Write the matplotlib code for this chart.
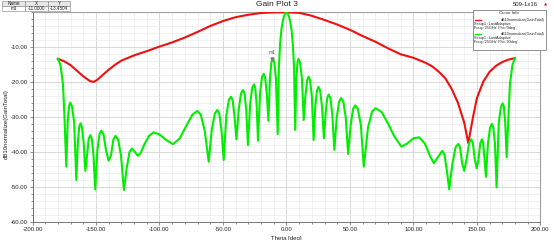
import matplotlib
matplotlib.use("Agg")
import matplotlib.pyplot as plt
from matplotlib.patches import Rectangle
from matplotlib.lines import Line2D
from matplotlib.ticker import MultipleLocator, FormatStrFormatter

plt.rcParams['font.family'] = ['Liberation Sans', 'DejaVu Sans']
plt.rcParams['axes.unicode_minus'] = False

# Phi = 0deg cut (red)
theta_phi0 = [-180, -175, -170, -165, -160, -155, -152, -149, -145, -140, -135, -130,
              -120, -110, -100, -90, -80, -70, -60, -50, -40, -30, -20, -10, 0,
              10, 20, 30, 40, 50, 60, 70, 80, 90, 100, 110, 115, 120, 125, 130, 135,
              140, 143.2, 145, 147, 150, 152.5, 155, 160, 165, 170, 175, 180]
gain_phi0 = [-13.3, -14.0, -15.1, -16.7, -18.3, -19.6, -19.9, -19.3, -18.0, -16.4, -15.0, -13.8,
             -12.3, -11.1, -9.8, -8.6, -7.2, -5.6, -3.9, -2.5, -1.4, -0.7, -0.2, -0.02, 0.0,
             -0.15, -1.0, -2.2, -3.5, -5.0, -6.8, -8.4, -10.3, -12.0, -13.0, -14.5, -15.5, -17.0, -18.8, -21.8, -25.8,
             -31.5, -37.4, -33.8, -29.8, -24.5, -22.2, -19.8, -17.0, -15.3, -14.2, -13.5, -13.1]

# Phi = 90deg cut (green)
theta_phi90 = [
    -180, -178, -176, -174.8, -173.4,
    -172.3, -171.2, -170.3, -168.9, -167.2, -165.5,
    -164.3, -163.2, -162.2, -161.1, -159.7, -158.4,
    -157.0, -155.7, -154.5, -153.3, -152.0, -150.6,
    -148.9, -147.2, -145.8, -144.1, -142.1, -140.1,
    -138.2, -136.3, -134.6, -132.6, -130.3, -128.0,
    -125.8, -123.6, -121.7, -119.5, -117.0,
    -115, -112, -108, -104.6, -100, -95, -89.4, -84, -79, -74, -70.2,
    -67.5, -64.4, -61.2,
    -58.8, -56.4, -54.4, -52.9, -51.2, -49.4,
    -47.4, -45.4, -43.7, -42.4, -40.9, -39.4,
    -37.6, -35.8, -34.2, -33.0, -31.7, -30.3,
    -28.6, -27.0, -25.5, -24.6, -23.5, -22.4,
    -20.8, -19.3, -17.9, -16.8, -15.5, -14.2,
    -13.0, -11.8, -10.8, -9.6, -8.3, -6.9,
    -6, -5, -4, -3, -2, -1, 0, 1, 2, 3, 4, 5, 6, 6.9,
    7.8, 8.7, 9.5, 10.7, 12.2, 13.6,
    14.9, 16.3, 17.4, 18.6, 20.0, 21.4,
    22.7, 24.1, 25.2, 26.5, 28.0, 29.5,
    30.8, 32.1, 33.2, 34.6, 36.1, 37.7,
    39.6, 41.5, 43.1, 44.8, 46.7, 48.6,
    50.6, 52.5, 54.2, 56.2, 58.6, 60.9,
    64.2, 67.4, 70.2, 75, 80, 85, 90.6, 95, 100, 104.5, 109, 113, 116.1, 119, 122.7,
    124.4, 126.3, 128.2,
    130.7, 133.2, 135.3, 136.7, 138.4, 140.0,
    141.9, 143.9, 145.5, 146.8, 148.3, 149.8,
    151.3, 152.7, 154.0, 154.9, 156.0, 157.1,
    158.7, 160.4, 161.8, 162.9, 164.2, 165.5,
    167.2, 168.9, 170.3, 171.2, 172.3, 173.4,
    174.8, 176, 178, 180]
gain_phi90 = [
    -13.3, -15.0, -20.5, -30.0, -44.1,
    -31.4, -26.8, -25.8, -26.8, -31.4, -47.9,
    -37.3, -32.7, -31.7, -32.7, -37.3, -45.3,
    -40.7, -36.1, -35.1, -36.1, -40.7, -50.6,
    -39.4, -34.8, -33.8, -34.8, -39.4, -42.4,
    -40.9, -36.3, -35.3, -36.3, -40.9, -50.8,
    -44.5, -39.9, -38.9, -39.8, -41.0,
    -40.3, -37.8, -35.2, -34.3, -34.9, -36.4, -37.7, -36.0, -32.5, -29.2, -28.2,
    -29.2, -33.8, -42.7,
    -33.5, -28.9, -27.9, -28.9, -33.5, -42.2,
    -29.7, -25.1, -24.1, -25.1, -29.7, -36.3,
    -27.8, -23.2, -22.2, -23.2, -27.8, -37.9,
    -26.2, -21.6, -20.6, -21.6, -26.2, -36.7,
    -23.2, -18.6, -17.6, -18.6, -23.2, -31.0,
    -18.8, -14.2, -13.2, -14.2, -18.8, -34.8,
    -16.0, -9.0, -5.0, -2.7, -1.2, -0.3, 0.0, -0.3, -1.2, -2.7, -5.0, -9.0, -16.0, -33.6,
    -18.9, -14.3, -13.3, -14.3, -18.9, -30.8,
    -24.0, -19.4, -18.4, -19.4, -24.0, -36.5,
    -26.9, -22.3, -21.3, -22.3, -26.9, -36.0,
    -29.1, -24.5, -23.5, -24.5, -29.1, -39.3,
    -30.1, -25.5, -24.5, -25.5, -30.1, -40.5,
    -32.2, -27.6, -26.6, -27.6, -32.2, -44.1,
    -33.0, -28.4, -27.4, -28.5, -31.8, -35.5, -38.4, -37.5, -36.0, -35.7, -37.5, -41.0, -43.1, -41.5, -39.6,
    -40.6, -45.2, -50.6,
    -43.2, -38.6, -37.6, -38.6, -43.2, -45.3,
    -41.9, -37.3, -36.3, -37.3, -41.9, -44.6,
    -41.9, -37.3, -36.3, -37.3, -41.9, -47.0,
    -37.5, -32.9, -31.9, -32.9, -37.5, -50.0,
    -31.6, -27.0, -26.0, -27.0, -31.6, -41.4,
    -30.0, -20.5, -15.0, -13.1]

marker_name = "m1"
marker_x = -11.0
marker_y = -13.4504

curve_labels = [["dB10normalize(GainTotal)", "Setup1 : LastAdaptive", "Freq='25GHz' Phi='0deg'"],
                ["dB10normalize(GainTotal)", "Setup1 : LastAdaptive", "Freq='25GHz' Phi='90deg'"]]
curve_colors = ["#f01010", "#00ee00"]

W, H = 554, 240


def fx(px):
    return px / W


def fy(py):
    return 1 - py / H


fig = plt.figure(figsize=(W / 100, H / 100), dpi=100)
ax = fig.add_axes([fx(32.5), fy(222.3), (540.4 - 32.5) / W, (222.3 - 12.3) / H])

ax.plot(theta_phi0, gain_phi0, color=curve_colors[0], lw=1.5, zorder=3)
ax.plot(theta_phi90, gain_phi90, color=curve_colors[1], lw=1.5, zorder=4)

# marker
ax.plot([marker_x], [marker_y], marker="v", ms=2.2, color="#808080", zorder=5)
ax.annotate(marker_name, (marker_x, marker_y), xytext=(0, 3.5), textcoords="offset points",
            ha="center", va="bottom", fontsize=3.6, color="#555555", zorder=5)

ax.set_xlim(-200, 200)
ax.set_ylim(-60, 0)
ax.xaxis.set_major_locator(MultipleLocator(50))
ax.xaxis.set_minor_locator(MultipleLocator(10))
ax.xaxis.set_major_formatter(FormatStrFormatter("%.2f"))
ax.yaxis.set_major_formatter(FormatStrFormatter("%.2f"))
ax.set_yticks([-60, -50, -40, -30, -20, -10])
ax.yaxis.set_minor_locator(MultipleLocator(2))

ax.grid(which="major", color="#d2d2d2", lw=0.6, zorder=0)
ax.grid(which="minor", color="#ebebeb", lw=0.5, zorder=0)
ax.tick_params(which="both", direction="out", colors="#606060", labelcolor="#222222",
               width=0.5, labelsize=4.3, pad=1)
ax.tick_params(which="major", length=2.5)
ax.tick_params(which="minor", length=1.5)

for s in ["left", "bottom"]:
    ax.spines[s].set_color("#606060")
    ax.spines[s].set_linewidth(0.6)
for s in ["top", "right"]:
    ax.spines[s].set_color("#a0a0a0")
    ax.spines[s].set_linewidth(0.8)

ax.set_xlabel("Theta [deg]", fontsize=4.3, color="#222222")
ax.xaxis.set_label_coords(0.5, -0.065)
ax.set_ylabel("dB10normalize(GainTotal)", fontsize=4.3, color="#222222")
ax.yaxis.set_label_coords(-0.0476, 0.466)

fig.text(fx(276.7), fy(5), "Gain Plot 3", fontsize=6, ha="center", va="center", color="#222222")
fig.text(fx(525), fy(4), "509-1x16", fontsize=4.3, ha="center", va="center", color="#222222")
fig.text(fx(546), fy(4), "\u25b2", fontsize=3, ha="center", va="center", color="#d02020",
         family="DejaVu Sans")

# marker table
col_edges = [2, 25, 48, 70]
row_edges = [1, 5.7, 10.5]
table_cells = [["Name", "X", "Y"], [marker_name, "%.4f" % marker_x, "%.4f" % marker_y]]
for r in range(2):
    for c in range(3):
        x0, x1 = col_edges[c], col_edges[c + 1]
        y0, y1 = row_edges[r], row_edges[r + 1]
        face = "#e6e6e6" if r == 0 else "white"
        fig.add_artist(Rectangle((fx(x0), fy(y1)), (x1 - x0) / W, (y1 - y0) / H,
                                 transform=fig.transFigure, facecolor=face,
                                 edgecolor="#808080", lw=0.4))
        fig.text(fx((x0 + x1) / 2), fy((y0 + y1) / 2), table_cells[r][c], fontsize=3.3,
                 ha="center", va="center", color="#222222")

# curve info box
fig.add_artist(Rectangle((fx(473), fy(49.5)), 72.5 / W, 40 / H, transform=fig.transFigure,
                         facecolor="white", edgecolor="#808080", lw=0.6, zorder=10))
fig.text(fx(509), fy(13), "Curve Info", fontsize=3.2, ha="center", va="center",
         color="#222222", zorder=11)
for i, lines in enumerate(curve_labels):
    y0 = 19.6 + i * 14.2
    fig.add_artist(Line2D([fx(474.5), fx(481)], [fy(y0), fy(y0)], transform=fig.transFigure,
                          color=curve_colors[i], lw=1.0, zorder=11))
    fig.text(fx(544.5), fy(y0), lines[0], fontsize=2.7, ha="right", va="center",
             color="#222222", zorder=11)
    fig.text(fx(474.5), fy(y0 + 4.3), lines[1], fontsize=2.7, ha="left", va="center",
             color="#222222", zorder=11)
    fig.text(fx(474.5), fy(y0 + 8.6), lines[2], fontsize=2.7, ha="left", va="center",
             color="#222222", zorder=11)

fig.savefig("out.png", dpi=100)
plt.close(fig)
